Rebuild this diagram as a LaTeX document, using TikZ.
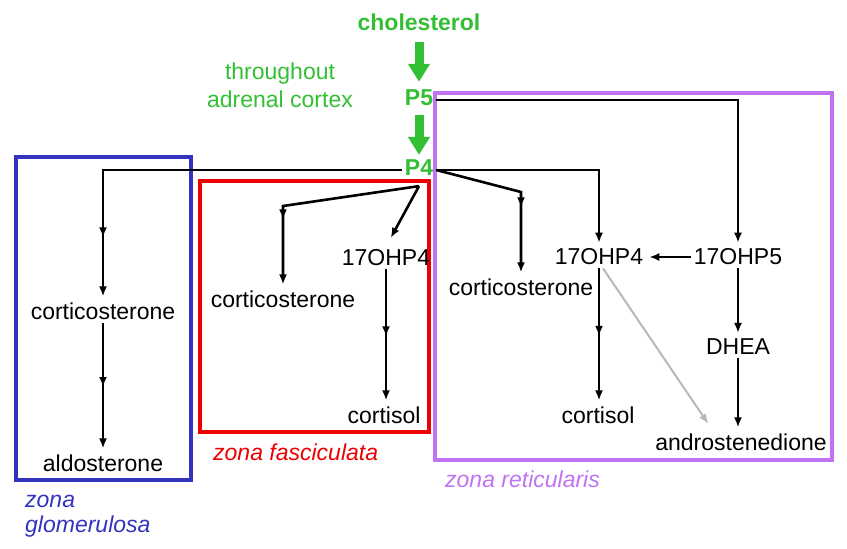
\documentclass[tikz,border=0pt]{standalone}
\usepackage{fontspec}
\setmainfont{Liberation Sans}
\usetikzlibrary{arrows.meta}
\usetikzlibrary{decorations.markings}
\definecolor{zgreen}{rgb}{0.2, 0.75, 0.2}
\definecolor{zblue}{rgb}{0.2, 0.2, 0.75}
\definecolor{zred}{rgb}{0.93, 0, 0}
\definecolor{zpurple}{rgb}{0.75, 0.45, 0.95}
\definecolor{zgrey}{rgb}{0.72, 0.72, 0.72}

\begin{document}
\begin{tikzpicture}[x=1pt, y=-1pt,
    txt/.style={inner sep=3pt, font=\fontsize{23}{28}\selectfont},
    hormone/.style={txt, text=zgreen, font=\fontsize{23}{28}\selectfont\bfseries},
    link/.style={line width=2.6pt, -{Latex[length=10pt, width=8pt]}, shorten >=3pt},
    midarrow/.style={postaction={decorate},
      decoration={markings, mark=at position #1 with {\arrow{Latex[length=10pt, width=8pt]}}}},
    midarrow/.default=0.5,
    greenarrow/.style={zgreen, line width=9pt, -{Triangle[length=18pt, width=21pt]}},
    zone/.style={line width=4.5pt},
    zonelabel/.style={txt, anchor=base west, font=\fontsize{23}{25}\selectfont\itshape}]
    \useasboundingbox (0, 0) rectangle (847, 549);

    \draw [zone, zblue] (16, 157) rectangle (191, 480);
    \draw [zone, zred] (200, 181) rectangle (429, 432);
    \draw [zone, zpurple] (435, 93) rectangle (832, 460);

    \node [hormone] (chol) at (419, 22) {cholesterol};
    \node [hormone] (pfive) at (419, 98) {P5};
    \node [hormone] (pfour) at (419, 168) {P4};
    \node [txt, text=zgreen, align=center] (where) at (280, 85) {throughout\\adrenal cortex};

    \node [txt] (cortG) at (103, 311) {corticosterone};
    \node [txt] (aldo) at (103, 463) {aldosterone};
    \node [txt] (cortF) at (283, 299) {corticosterone};
    \node [txt] (ohpfourF) at (386, 258) {17OHP4};
    \node [txt] (cortisolF) at (384, 415) {cortisol};
    \node [txt] (cortR) at (521, 287) {corticosterone};
    \node [txt] (ohpfourR) at (599, 257) {17OHP4};
    \node [txt] (ohpfiveR) at (738, 257) {17OHP5};
    \node [txt] (cortisolR) at (598, 415) {cortisol};
    \node [txt] (dhea) at (738, 347) {DHEA};
    \node [txt] (andro) at (741, 442) {androstenedione};

    \node [zonelabel, text=zblue, anchor=north west, align=left] (glom) at (22, 492) {zona\\glomerulosa};
    \node [zonelabel, text=zred] (fasc) at (210, 460) {zona fasciculata};
    \node [zonelabel, text=zpurple] (reti) at (442, 487) {zona reticularis};

    \draw [greenarrow, shorten <=8pt, shorten >=5pt] (chol) -- (pfive);
    \draw [greenarrow, shorten <=6pt, shorten >=2pt] (pfive) -- (pfour);

    \coordinate (forkF) at ([yshift=-7pt]pfour.south);
    \coordinate (kinkF) at (283, 206);
    \coordinate (kinkR) at (521, 192);

    \draw [link, midarrow=-62pt] ([yshift=-2pt]pfour.west) -| (cortG);
    \draw [link, midarrow] (cortG) -- (aldo);

    \draw [link, midarrow=-68pt] (forkF) -- (kinkF) -- (cortF);
    \draw [link, shorten >=10pt] (forkF) -- (ohpfourF.north);
    \draw [link, midarrow] (ohpfourF) -- (ohpfourF |- cortisolF.north);

    \draw [link, midarrow=-68pt] ([yshift=-2pt]pfour.east) -- (kinkR) -- (cortR);
    \draw [link] ([yshift=-2pt]pfour.east) -| (ohpfourR);
    \draw [link] ([yshift=-2pt]pfive.east) -| (ohpfiveR);
    \draw [link] (ohpfiveR) -- (ohpfourR);
    \draw [link, midarrow] (ohpfourR) -- (ohpfourR |- cortisolR.north);
    \draw [link, zgrey, line width=2pt] ([xshift=4pt]ohpfourR.south) -- ([xshift=-31pt, yshift=4pt]andro.north);
    \draw [link] (ohpfiveR) -- (dhea);
    \draw [link] (dhea) -- (dhea |- andro.north);
  \end{tikzpicture}
\end{document}
